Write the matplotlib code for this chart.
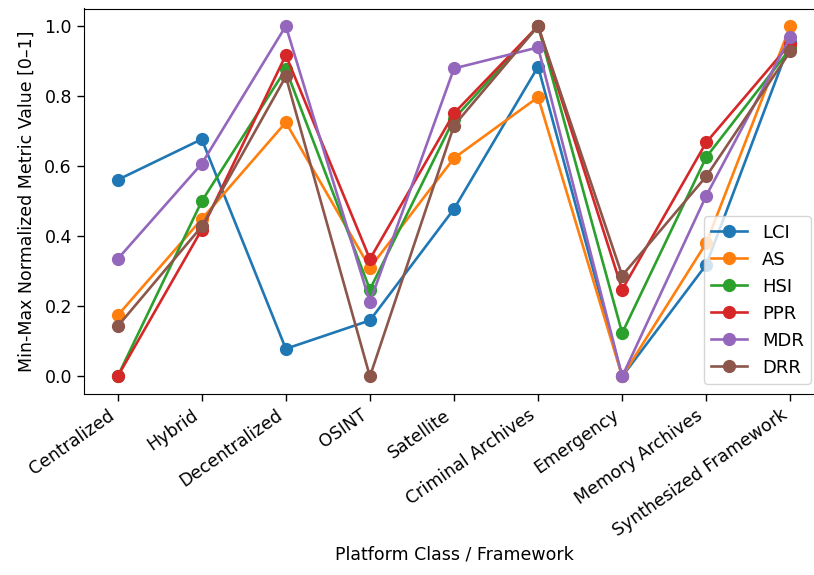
import matplotlib
matplotlib.use("Agg")
import matplotlib.pyplot as plt

categories = ["Centralized", "Hybrid", "Decentralized", "OSINT", "Satellite",
              "Criminal Archives", "Emergency", "Memory Archives", "Synthesized Framework"]

LCI = [0.561, 0.677, 0.079, 0.160, 0.478, 0.884, 0.0, 0.319, 0.955]
AS  = [0.174, 0.449, 0.725, 0.310, 0.623, 0.797, 0.0, 0.381, 1.0]
HSI = [0.0, 0.500, 0.877, 0.248, 0.735, 1.0, 0.124, 0.626, 0.936]
PPR = [0.0, 0.419, 0.917, 0.335, 0.751, 1.0, 0.248, 0.668, 0.950]
MDR = [0.335, 0.607, 1.0, 0.212, 0.879, 0.939, 0.0, 0.516, 0.969]
DRR = [0.143, 0.428, 0.856, 0.0, 0.716, 1.0, 0.288, 0.571, 0.928]

series = [("LCI", LCI), ("AS", AS), ("HSI", HSI), ("PPR", PPR), ("MDR", MDR), ("DRR", DRR)]

W, H = 814, 575
fig = plt.figure(figsize=(W / 100, H / 100), dpi=100)
ax = fig.add_axes([84 / W, 1 - 394 / H, (824 - 84) / W, (394 - 8.5) / H])
x = list(range(len(categories)))
for name, vals in series:
    ax.plot(x, vals, marker="o", markersize=8.5, linewidth=1.9, label=name)

ax.set_xticks(x)
ax.set_xticklabels(categories, rotation=35, ha="right", fontsize=12.5)
ax.tick_params(axis="y", labelsize=12.5)
ax.tick_params(axis="both", length=5.2, width=1.0)
ax.set_xlabel("Platform Class / Framework", fontsize=12.5)
ax.set_ylabel("Min-Max Normalized Metric Value [0\u20131]", fontsize=12.5, labelpad=6)
ax.legend(loc="lower right", fontsize=13, borderaxespad=0,
          bbox_to_anchor=(811 / W, 1 - 384 / H), bbox_transform=fig.transFigure)

fig.savefig("out.png", dpi=100)
